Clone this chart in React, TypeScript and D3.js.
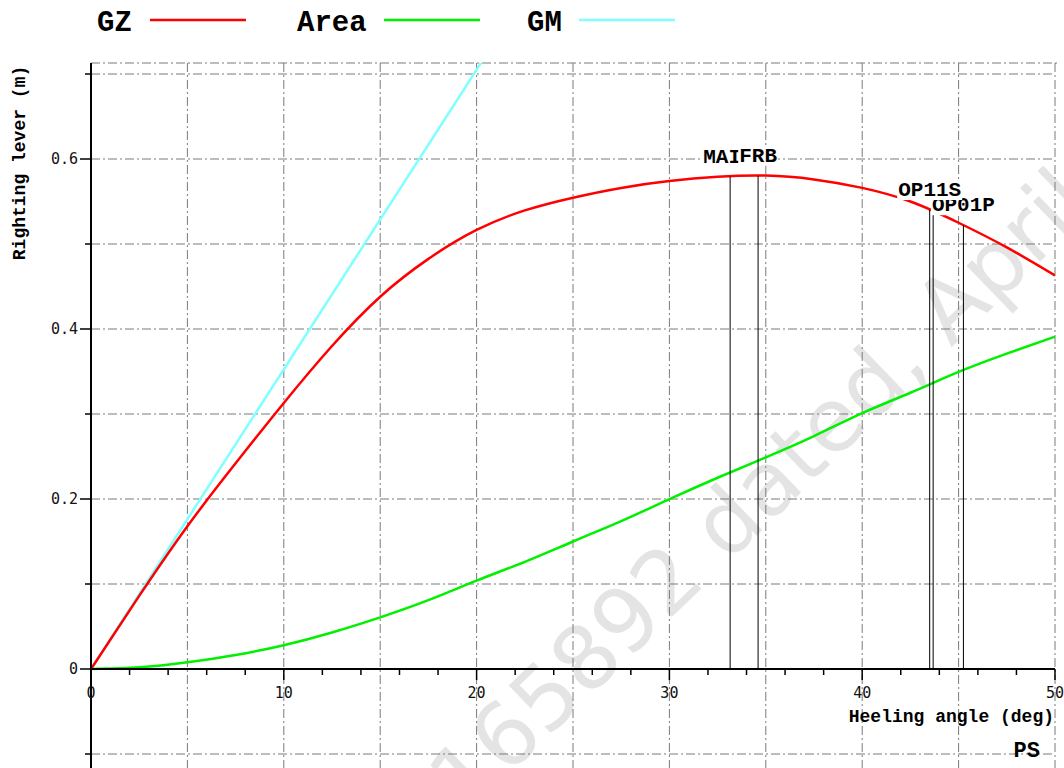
import React from 'react';
import * as d3 from 'd3';

// heeling angle (deg) and values
const ANGLES = [0, 2.5, 5, 7.5, 10, 12.5, 15, 17.5, 20, 22.5, 25, 27.5, 30, 32.5, 35, 37.5, 40, 42.5, 45, 47.5, 50];
const GZ = [0, 0.086, 0.168, 0.242, 0.313, 0.38, 0.438, 0.4825, 0.5165, 0.5395, 0.5545, 0.566, 0.574, 0.579, 0.5805, 0.576, 0.566, 0.55, 0.525, 0.496, 0.463];
const AREA = [0, 0.002, 0.008, 0.0165, 0.028, 0.043, 0.0608, 0.081, 0.104, 0.126, 0.15, 0.174, 0.1998, 0.225, 0.249, 0.274, 0.301, 0.325, 0.3495, 0.371, 0.391];

// GM line: straight from origin, reaching GM at 1 rad (57.3 deg)
const GM_ANGLES = [0, 57.3];
const GM_VALUES = [0, 2.02];

// criteria markers (drawn in this order)
const MARKER_NAMES = ['MAI', 'FRB', 'OP01P', '', 'OP11S'];
const MARKER_ANGLES = [33.15, 34.6, 45.25, 43.68, 43.5];

const X_TICKS = [0, 10, 20, 30, 40, 50];
const Y_TICKS = [0, 0.2, 0.4, 0.6];
const Y_TICK_LABELS = ['0', '0.2', '0.4', '0.6'];

const LEGEND_NAMES = ['GZ', 'Area', 'GM'];
const LEGEND_COLORS = ['#ff0000', '#00f000', '#80ffff'];

const MONO = '"Liberation Mono", "DejaVu Sans Mono", monospace';
const GRID = { stroke: '#7a7a7a', strokeWidth: 1, strokeDasharray: '9 3 2 3' };

export default function App() {
  const W = 1064;
  const H = 768;
  const x = d3.scaleLinear().domain([0, 50]).range([91, 1055]);
  const y = d3.scaleLinear().domain([0, 0.6]).range([669, 159]);
  const top = 63;
  const left = x(0);
  const right = x(50);

  const gzAt = d3.scaleLinear().domain(ANGLES).range(GZ);
  const line = d3.line<[number, number]>().x(d => x(d[0])).y(d => y(d[1])).curve(d3.curveNatural);
  const gzPath = line(ANGLES.map((a, i) => [a, GZ[i]] as [number, number])) || '';
  const areaPath = line(ANGLES.map((a, i) => [a, AREA[i]] as [number, number])) || '';
  const gmPath = d3.line<[number, number]>().x(d => x(d[0])).y(d => y(d[1]))(
    GM_ANGLES.map((a, i) => [a, GM_VALUES[i]] as [number, number])
  ) || '';

  const xGrid = d3.range(5, 51, 5);
  const yGrid = d3.range(-1, 8).map(k => k / 10).filter(v => v !== 0);
  const xMinor = d3.range(0, 51, 2);
  const yMinor = d3.range(-1, 8).map(k => k / 10);

  const labelSize = 21;
  const labelW = (s: string) => s.length * labelSize * 0.6;
  // the MAI label sits a little left of its line in the original
  const nudge = (s: string) => (s === 'MAI' ? -8 : 0);

  return (
    <svg width={W} height={H} style={{ position: 'absolute', left: 0, top: 0, background: '#fff' }}>
      <defs>
        <clipPath id="plot">
          <rect x={left} y={top} width={right - left} height={H - top} />
        </clipPath>
      </defs>

      {/* watermark */}
      <text
        x={466}
        y={816}
        transform="rotate(-44 466 816)"
        fontFamily='"DejaVu Sans", sans-serif'
        fontSize={88}
        fill="#e4e4e4"
      >
        165892 dated, April
      </text>

      {/* grid */}
      <line x1={left} x2={right + 3} y1={top} y2={top} {...GRID} />
      {yGrid.map(v => (
        <line key={'gy' + v} x1={left} x2={right} y1={y(v)} y2={y(v)} {...GRID} />
      ))}
      {xGrid.map(v => (
        <line key={'gx' + v} x1={x(v)} x2={x(v)} y1={top} y2={H} {...GRID} />
      ))}

      {/* curves */}
      <g clipPath="url(#plot)" fill="none" strokeWidth={2.5}>
        <path d={areaPath} stroke={LEGEND_COLORS[1]} />
        <path d={gmPath} stroke={LEGEND_COLORS[2]} />
        <path d={gzPath} stroke={LEGEND_COLORS[0]} />
      </g>

      {/* axes */}
      <line x1={left} x2={left} y1={top} y2={H} stroke="#000" strokeWidth={2} />
      <line x1={left} x2={right} y1={y(0)} y2={y(0)} stroke="#000" strokeWidth={2} />
      {xMinor.map(v => (
        <line key={'tx' + v} x1={x(v)} x2={x(v)} y1={y(0)} y2={y(0) + (v % 10 === 0 ? 11 : 6)} stroke="#000" strokeWidth={1.5} />
      ))}
      {yMinor.map(v => (
        <line
          key={'ty' + v}
          x1={left - (Math.abs(Math.round(v * 10)) % 2 === 0 ? 11 : 6)}
          x2={left}
          y1={y(v)}
          y2={y(v)}
          stroke="#000"
          strokeWidth={1.5}
        />
      ))}
      {X_TICKS.map(v => (
        <text key={'lx' + v} x={x(v)} y={y(0) + 29} textAnchor="middle" fontFamily='"DejaVu Sans Mono", monospace' fontSize={15} fill="#111">
          {v}
        </text>
      ))}
      {Y_TICKS.map((v, i) => (
        <text key={'ly' + v} x={left - 13} y={y(v) + 5} textAnchor="end" fontFamily='"DejaVu Sans Mono", monospace' fontSize={15} fill="#111">
          {Y_TICK_LABELS[i]}
        </text>
      ))}

      {/* markers */}
      {MARKER_ANGLES.map((a, i) => (
        <line key={'m' + i} x1={x(a)} x2={x(a)} y1={y(0)} y2={y(gzAt(a))} stroke="#000" strokeWidth={1} />
      ))}
      {MARKER_ANGLES.map((a, i) => {
        const name = MARKER_NAMES[i];
        if (!name) return null;
        const cx = x(a) + nudge(name);
        const base = y(gzAt(a)) - 14;
        const w = labelW(name);
        return (
          <g key={'ml' + i}>
            <rect x={cx - w / 2 - 1} y={base - 16} width={w + 2} height={20} fill="#fff" />
            <text x={cx} y={base} textAnchor="middle" fontFamily={MONO} fontWeight="bold" fontSize={labelSize} fill="#000">
              {name}
            </text>
          </g>
        );
      })}

      {/* axis titles */}
      <text
        transform={`translate(25, 163) rotate(-90)`}
        textAnchor="middle"
        fontFamily={MONO}
        fontWeight="bold"
        fontSize={18}
        fill="#000"
      >
        Righting lever (m)
      </text>
      <text x={1054} y={722} textAnchor="end" fontFamily={MONO} fontWeight="bold" fontSize={18} fill="#000">
        Heeling angle (deg)
      </text>
      <text x={1040} y={757} textAnchor="end" fontFamily={MONO} fontWeight="bold" fontSize={22} fill="#000">
        PS
      </text>

      {/* legend */}
      {LEGEND_NAMES.map((n, i) => {
        const tx = [97, 297, 527][i];
        const lx = [150, 384, 579][i];
        return (
          <g key={'lg' + n}>
            <text x={tx} y={31} fontFamily={MONO} fontWeight="bold" fontSize={29} fill="#000">
              {n}
            </text>
            <line x1={lx} x2={lx + 96} y1={20} y2={20} stroke={LEGEND_COLORS[i]} strokeWidth={2.5} />
          </g>
        );
      })}
    </svg>
  );
}
